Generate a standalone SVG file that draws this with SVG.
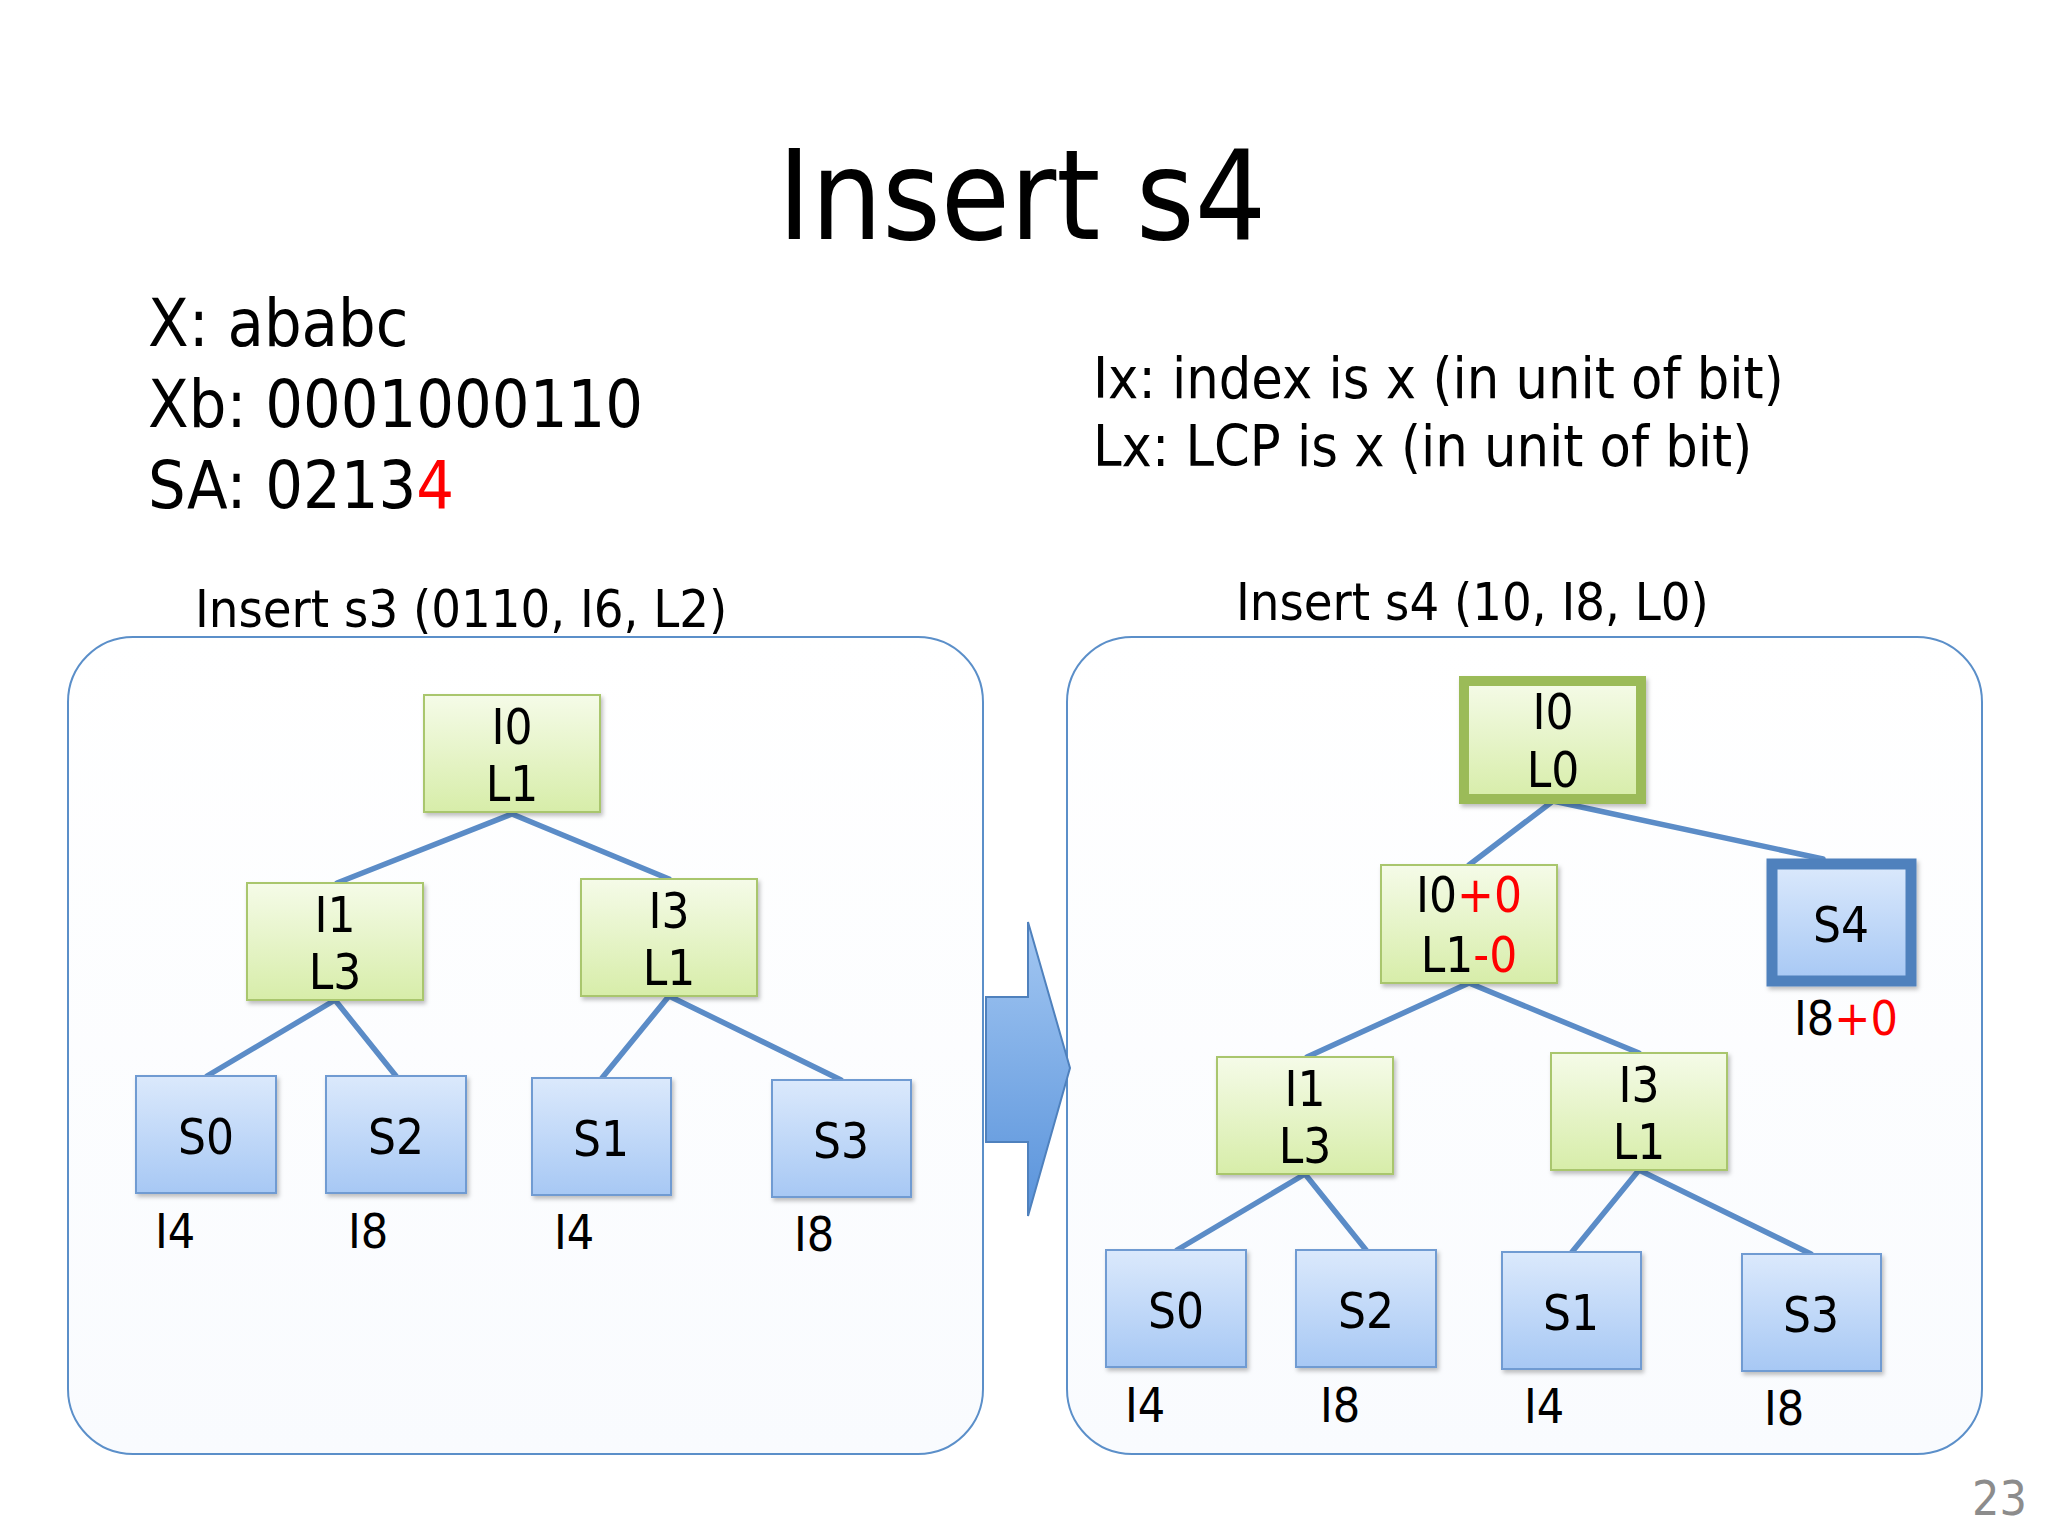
<svg xmlns="http://www.w3.org/2000/svg" width="2048" height="1536" viewBox="0 0 2048 1536">
<style>
text{font-family:"DejaVu Sans Condensed","DejaVu Sans",sans-serif;fill:#000}
.t{font-size:125px}
.info{font-size:66px}
.leg{font-size:57px}
.cap{font-size:52px}
.nt{font-size:49px;text-anchor:middle}
.lb{font-size:48px}
.red{fill:#ff0000}
.panel{fill:url(#pg);stroke:#5b8fc9;stroke-width:2}
.gn{fill:url(#gg);stroke:#a9c66d;stroke-width:2;filter:url(#sh)}
.bn{fill:url(#bg);stroke:#6f9bd2;stroke-width:2;filter:url(#sh)}
.gthick{stroke:#9bbb59;stroke-width:10}
.bthick{stroke:#4f81bd;stroke-width:11}
.conn line{stroke:#5b8cc7;stroke-width:5.5;stroke-linecap:round}
</style>
<defs>
<linearGradient id="pg" x1="0" y1="0" x2="0" y2="1"><stop offset="0" stop-color="#ffffff"/><stop offset="1" stop-color="#f9fbfe"/></linearGradient>
<linearGradient id="gg" x1="0" y1="0" x2="0" y2="1"><stop offset="0" stop-color="#f5fbe8"/><stop offset="1" stop-color="#d7eda9"/></linearGradient>
<linearGradient id="bg" x1="0" y1="0" x2="0" y2="1"><stop offset="0" stop-color="#dbe9fc"/><stop offset="1" stop-color="#a7c8f4"/></linearGradient>
<linearGradient id="ag" x1="0" y1="0" x2="0" y2="1"><stop offset="0" stop-color="#a3c7f2"/><stop offset="1" stop-color="#5993db"/></linearGradient>
<filter id="sh" x="-10%" y="-10%" width="130%" height="130%"><feDropShadow dx="2" dy="3" stdDeviation="2" flood-color="#000" flood-opacity="0.25"/></filter>
</defs>
<rect width="2048" height="1536" fill="#ffffff"/>
<text class="t" x="1022" y="239" text-anchor="middle">Insert s4</text>
<g id="info">
<text class="info" x="148" y="346">X: ababc</text>
<text class="info" x="148" y="427">Xb: 0001000110</text>
<text class="info" x="148" y="508">SA: 0213<tspan class="red">4</tspan></text>
</g>
<g id="legend">
<text class="leg" x="1093" y="398">Ix: index is x (in unit of bit)</text>
<text class="leg" x="1093" y="466">Lx: LCP is x (in unit of bit)</text>
</g>
<g id="panel-left">
<rect class="panel" x="68" y="637" width="915" height="817" rx="65"/>
<text class="cap" x="195" y="627">Insert s3 (0110, I6, L2)</text>
</g>
<g id="panel-right">
<rect class="panel" x="1067" y="637" width="915" height="817" rx="65"/>
<text class="cap" x="1236" y="620">Insert s4 (10, I8, L0)</text>
</g>
<g id="arrow">
<polygon points="986,997 1028,997 1028,922 1070,1068 1028,1216 1028,1142 986,1142" fill="url(#ag)" stroke="#4f81bd" stroke-width="2"/>
</g>
<g class="conn" id="connectors">
<line x1="512" y1="814" x2="337" y2="883"/>
<line x1="512" y1="814" x2="669" y2="879"/>
<line x1="335" y1="1000" x2="207" y2="1076"/>
<line x1="335" y1="1000" x2="396" y2="1076"/>
<line x1="669" y1="996" x2="602" y2="1078"/>
<line x1="669" y1="996" x2="841" y2="1080"/>
<line x1="1553" y1="801" x2="1469" y2="865"/>
<line x1="1553" y1="801" x2="1823" y2="859"/>
<line x1="1469" y1="983" x2="1307" y2="1057"/>
<line x1="1469" y1="983" x2="1639" y2="1053"/>
<line x1="1305" y1="1174" x2="1177" y2="1250"/>
<line x1="1305" y1="1174" x2="1366" y2="1250"/>
<line x1="1639" y1="1170" x2="1572" y2="1252"/>
<line x1="1639" y1="1170" x2="1811" y2="1254"/>
</g>
<g id="L-I0"><rect class="gn" x="424" y="695" width="176" height="117"/><text class="nt" x="512" y="744">I0</text><text class="nt" x="512" y="801">L1</text></g>
<g id="L-I1"><rect class="gn" x="247" y="883" width="176" height="117"/><text class="nt" x="335" y="932">I1</text><text class="nt" x="335" y="989">L3</text></g>
<g id="L-I3"><rect class="gn" x="581" y="879" width="176" height="117"/><text class="nt" x="669" y="928">I3</text><text class="nt" x="669" y="985">L1</text></g>
<g id="L-S0"><rect class="bn" x="136" y="1076" width="140" height="117"/><text class="nt" x="206" y="1154">S0</text><text class="lb" x="155" y="1248">I4</text></g>
<g id="L-S2"><rect class="bn" x="326" y="1076" width="140" height="117"/><text class="nt" x="396" y="1154">S2</text><text class="lb" x="348" y="1248">I8</text></g>
<g id="L-S1"><rect class="bn" x="532" y="1078" width="139" height="117"/><text class="nt" x="601" y="1156">S1</text><text class="lb" x="554" y="1249">I4</text></g>
<g id="L-S3"><rect class="bn" x="772" y="1080" width="139" height="117"/><text class="nt" x="841" y="1158">S3</text><text class="lb" x="794" y="1251">I8</text></g>
<g id="R-I0"><rect class="gn gthick" x="1464" y="681" width="177" height="118"/><text class="nt" x="1553" y="729">I0</text><text class="nt" x="1553" y="787">L0</text></g>
<g id="R-I0b"><rect class="gn" x="1381" y="865" width="176" height="118"/><text class="nt" x="1469" y="912">I0<tspan class="red">+0</tspan></text><text class="nt" x="1469" y="972">L1<tspan class="red">-0</tspan></text></g>
<g id="R-S4"><rect class="bn bthick" x="1772" y="864" width="139" height="117"/><text class="nt" x="1841" y="942">S4</text><text class="lb" x="1794" y="1035">I8<tspan class="red">+0</tspan></text></g>
<g id="R-I1"><rect class="gn" x="1217" y="1057" width="176" height="117"/><text class="nt" x="1305" y="1106">I1</text><text class="nt" x="1305" y="1163">L3</text></g>
<g id="R-I3"><rect class="gn" x="1551" y="1053" width="176" height="117"/><text class="nt" x="1639" y="1102">I3</text><text class="nt" x="1639" y="1159">L1</text></g>
<g id="R-S0"><rect class="bn" x="1106" y="1250" width="140" height="117"/><text class="nt" x="1176" y="1328">S0</text><text class="lb" x="1125" y="1422">I4</text></g>
<g id="R-S2"><rect class="bn" x="1296" y="1250" width="140" height="117"/><text class="nt" x="1366" y="1328">S2</text><text class="lb" x="1320" y="1422">I8</text></g>
<g id="R-S1"><rect class="bn" x="1502" y="1252" width="139" height="117"/><text class="nt" x="1571" y="1330">S1</text><text class="lb" x="1524" y="1423">I4</text></g>
<g id="R-S3"><rect class="bn" x="1742" y="1254" width="139" height="117"/><text class="nt" x="1811" y="1332">S3</text><text class="lb" x="1764" y="1425">I8</text></g>
<text x="2027" y="1515" text-anchor="end" style="font-size:48px;fill:#8c8c8c">23</text>
</svg>
